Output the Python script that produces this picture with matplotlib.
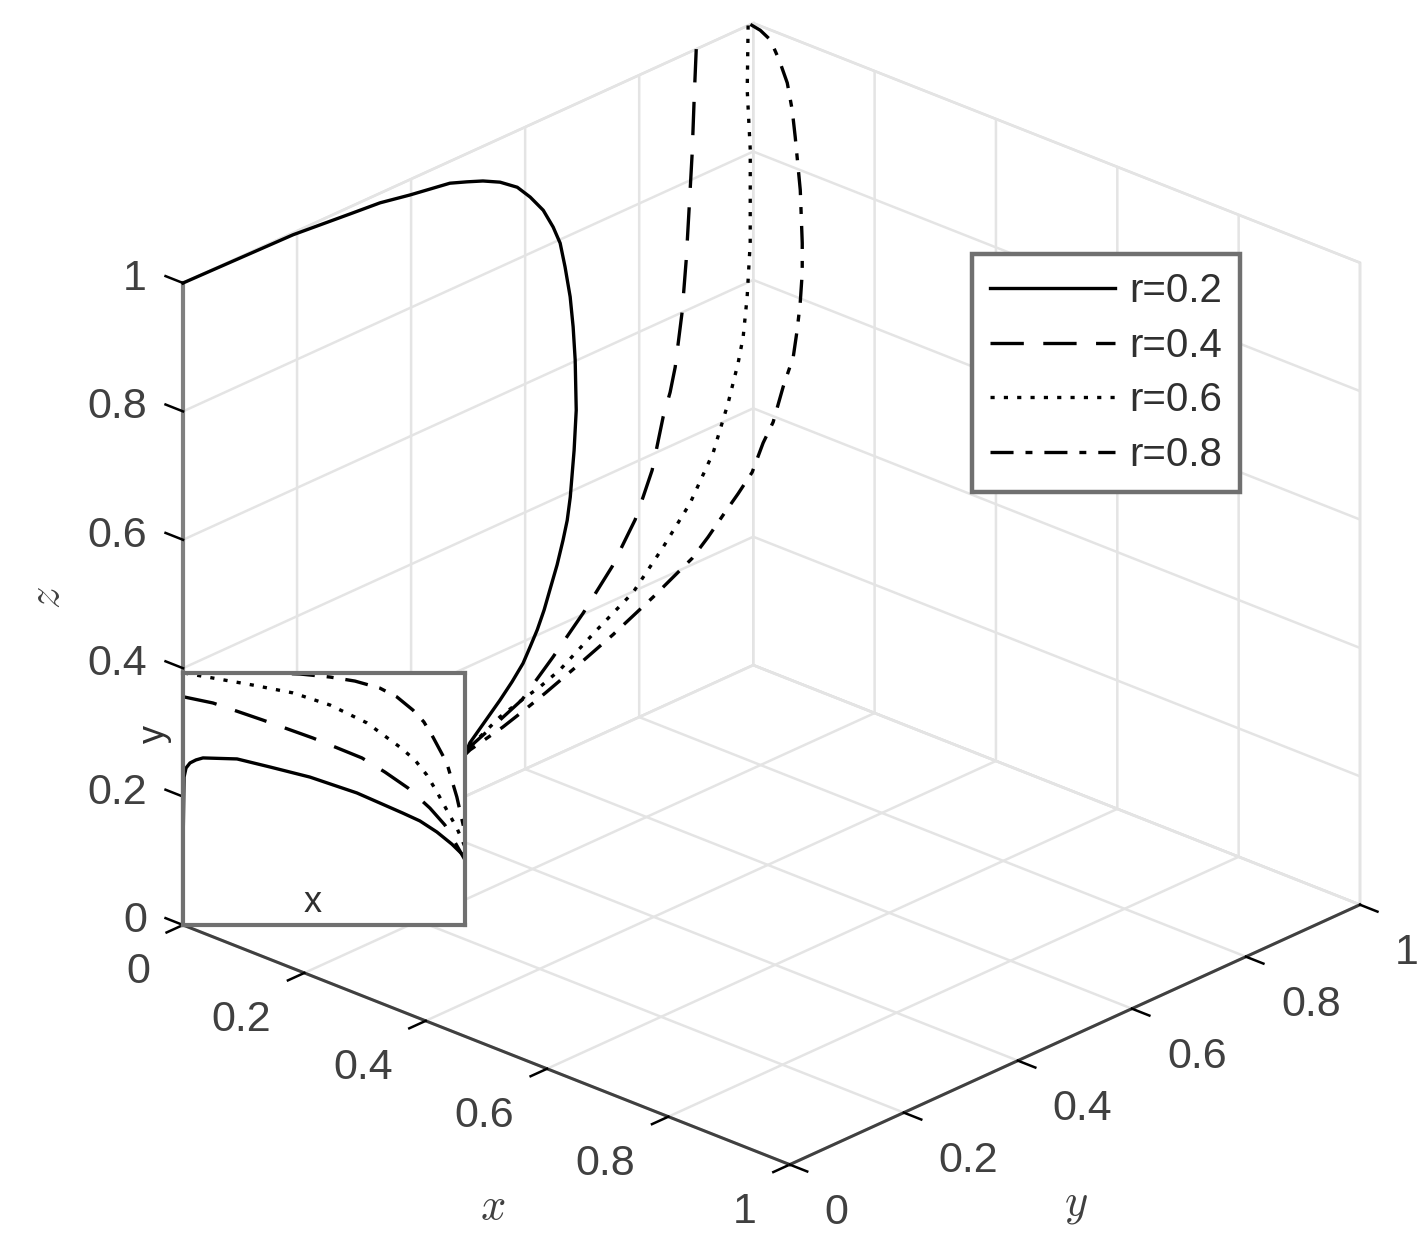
import matplotlib
matplotlib.use('Agg')
import matplotlib.pyplot as plt
from mpl_toolkits.mplot3d import proj3d

W = 1426
H = 1248
plt.rcParams['font.family'] = ['Liberation Sans', 'DejaVu Sans']
plt.rcParams['lines.scale_dashes'] = False

# 3D curves
x_r2 = [0, 0, 0, 0, 0, 0, 0, 0, 0, 0, 0.0002, 0.002, 0.0067, 0.0095, 0.012, 0.015, 0.019, 0.024, 0.03, 0.04, 0.06, 0.08, 0.09, 0.10, 0.115, 0.13, 0.145, 0.16, 0.172, 0.185, 0.2, 0.215, 0.25, 0.27]
y_r2 = [0, 0.193, 0.293, 0.3456, 0.398, 0.433, 0.468, 0.498, 0.526, 0.556, 0.586, 0.6067, 0.6246, 0.639, 0.6486, 0.654, 0.6587, 0.6586, 0.6558, 0.647, 0.622, 0.594, 0.578, 0.56, 0.5337, 0.505, 0.479, 0.451, 0.4256, 0.3995, 0.3642, 0.327, 0.237, 0.207]
z_r2 = [1, 0.997, 0.989, 0.985, 0.976, 0.971, 0.966, 0.956, 0.946, 0.932, 0.912, 0.889, 0.863, 0.832, 0.804, 0.766, 0.719, 0.674, 0.626, 0.555, 0.51, 0.456, 0.43, 0.41, 0.388, 0.366, 0.351, 0.337, 0.325, 0.315, 0.306, 0.298, 0.281, 0.282]

x_r4 = [0, 0.05, 0.07, 0.09, 0.105, 0.124, 0.145, 0.158, 0.172, 0.185, 0.193, 0.2, 0.222, 0.233, 0.244, 0.256, 0.262, 0.27, 0.27]
y_r4 = [0.9, 0.8432, 0.8184, 0.7919, 0.7707, 0.7433, 0.7088, 0.6861, 0.659, 0.6258, 0.6014, 0.58, 0.5162, 0.4537, 0.3893, 0.3221, 0.2772, 0.216, 0.207]
z_r4 = [1, 0.965, 0.897, 0.831, 0.763, 0.7, 0.636, 0.611, 0.589, 0.524, 0.495, 0.471, 0.432, 0.389, 0.351, 0.316, 0.305, 0.291, 0.282]

x_r6 = [0, 0.03, 0.06, 0.11, 0.14, 0.155, 0.165, 0.175, 0.19, 0.205, 0.218, 0.233, 0.245, 0.255, 0.258, 0.261, 0.266, 0.27, 0.27]
y_r6 = [0.991, 0.9575, 0.9309, 0.8776, 0.8403, 0.8174, 0.7979, 0.7698, 0.7275, 0.6712, 0.61, 0.5414, 0.4654, 0.3898, 0.3516, 0.3168, 0.2728, 0.216, 0.207]
z_r6 = [1, 0.924, 0.853, 0.748, 0.69, 0.643, 0.614, 0.567, 0.512, 0.462, 0.423, 0.386, 0.363, 0.335, 0.325, 0.32, 0.313, 0.291, 0.282]

x_r8 = [0, 0.015, 0.03, 0.045, 0.06, 0.068, 0.075, 0.085, 0.092, 0.1, 0.112, 0.125, 0.138, 0.15, 0.165, 0.18, 0.19, 0.2, 0.208, 0.215, 0.222, 0.228, 0.234, 0.24, 0.25, 0.257, 0.26, 0.264, 0.267, 0.27, 0.27]
y_r8 = [0.995, 0.9963, 0.998, 0.9977, 0.9958, 0.9959, 0.9938, 0.992, 0.9863, 0.9795, 0.9667, 0.9493, 0.9302, 0.9105, 0.8769, 0.8433, 0.8152, 0.7853, 0.7521, 0.7184, 0.6846, 0.6502, 0.6105, 0.569, 0.4881, 0.414, 0.3583, 0.3189, 0.277, 0.216, 0.207]
z_r8 = [1, 0.996, 0.986, 0.96, 0.931, 0.892, 0.853, 0.775, 0.739, 0.703, 0.666, 0.631, 0.602, 0.572, 0.545, 0.509, 0.492, 0.462, 0.445, 0.428, 0.41, 0.393, 0.382, 0.37, 0.348, 0.329, 0.313, 0.305, 0.296, 0.286, 0.282]

# inset curves (x-y view)
ix_r2 = [0, 0, 0.001, 0.0029, 0.0067, 0.0124, 0.0191, 0.0517, 0.0833, 0.1024, 0.1215, 0.1436, 0.1665, 0.1885, 0.2105, 0.2268, 0.2431, 0.2574, 0.27, 0.27]
iy_r2 = [0, 0.298, 0.587, 0.623, 0.643, 0.655, 0.663, 0.659, 0.627, 0.607, 0.587, 0.556, 0.524, 0.484, 0.444, 0.413, 0.369, 0.321, 0.27, 0.206]
ix_r4 = [0.001, 0.0287, 0.0766, 0.1244, 0.1713, 0.1933, 0.2153, 0.2364, 0.2507, 0.2603, 0.27, 0.27]
iy_r4 = [0.905, 0.881, 0.813, 0.742, 0.663, 0.607, 0.544, 0.464, 0.397, 0.329, 0.258, 0.206]
ix_r6 = [0.001, 0.0287, 0.067, 0.1053, 0.1407, 0.1761, 0.2077, 0.222, 0.2335, 0.2431, 0.2526, 0.2622, 0.27, 0.27]
iy_r6 = [1.0, 0.98, 0.952, 0.921, 0.873, 0.802, 0.706, 0.655, 0.595, 0.528, 0.456, 0.385, 0.31, 0.206]
ix_r8 = [0.001, 0.0833, 0.112, 0.1407, 0.1646, 0.1885, 0.2048, 0.2201, 0.2306, 0.2393, 0.2526, 0.2574, 0.2622, 0.27, 0.27]
iy_r8 = [1.0, 1.0, 0.996, 0.984, 0.968, 0.94, 0.905, 0.853, 0.806, 0.746, 0.643, 0.575, 0.508, 0.365, 0.206]

ticks = [0, 0.2, 0.4, 0.6, 0.8, 1]
tick_labels = ['0', '0.2', '0.4', '0.6', '0.8', '1']
r_labels = ['r=0.2', 'r=0.4', 'r=0.6', 'r=0.8']

styles = ['-', (0, (24, 14)), (0, (3, 6.6)), (0, (16.6, 8.6, 5, 8.6))]

fig = plt.figure(figsize=(W / 100, H / 100), dpi=100)
side = 1600
ax = fig.add_axes([(W - side) / 2 / W, (H - side) / 2 / H, side / W, side / H], projection='3d', proj_type='ortho')
ax.view_init(elev=25.1, azim=-47.05)
ax.set_xlim(0, 1, view_margin=0)
ax.set_ylim(0, 1, view_margin=0)
ax.set_zlim(0, 1, view_margin=0)
aspect = (829, 837, 709)
ax.set_box_aspect(aspect)

curves = [(x_r2, y_r2, z_r2), (x_r4, y_r4, z_r4), (x_r6, y_r6, z_r6), (x_r8, y_r8, z_r8)]
handles = []
for (cx, cy, cz), ls, lab in zip(curves, styles, r_labels):
    l, = ax.plot(cx, cy, cz, color='black', lw=2.4, ls=ls, dash_capstyle='butt', label=lab)
    handles.append(l)

ax.set_xticks(ticks)
ax.set_yticks(ticks)
ax.set_zticks(ticks)
ax.set_xticklabels([])
ax.set_yticklabels([])
ax.set_zticklabels([])
ax.zaxis.set_ticks_position('lower')
# z ticks should point along -x like the reference
ax.zaxis._get_tickdir = lambda pos: 0

for axis in [ax.xaxis, ax.yaxis, ax.zaxis]:
    axis.set_pane_color((1, 1, 1, 1))
    axis.pane.set_edgecolor('#dedede')
    axis.pane.set_linewidth(1.8)
    axis._axinfo['grid'].update(color='#e4e4e4', linewidth=1.8)
    axis._axinfo['tick']['inward_factor'] = 0.36
    axis._axinfo['tick']['outward_factor'] = 0
    axis._axinfo['tick']['linewidth'] = {True: 1.8, False: 1}
    axis._axinfo['tick']['color'] = '#404040'
ax.zaxis._axinfo['tick']['inward_factor'] = 0
ax.zaxis._axinfo['tick']['outward_factor'] = 0.36
ax.xaxis.line.set_color('#404040')
ax.yaxis.line.set_color('#404040')
ax.zaxis.line.set_color('#808080')
ax.xaxis.line.set_linewidth(2.2)
ax.yaxis.line.set_linewidth(2.2)
ax.zaxis.line.set_linewidth(3)


def to_px(x, y, z):
    xs, ys, _ = proj3d.proj_transform(x, y, z, ax.get_proj())
    px, py = ax.transData.transform((xs, ys))
    return px, H - py


# fit the box onto the wanted pixel corners
fig.canvas.draw()
a = to_px(0, 0, 0)
b = to_px(1, 1, 0)
ax.set_box_aspect(aspect, zoom=(1360 - 183) / (b[0] - a[0]))
fig.canvas.draw()
a = to_px(0, 0, 0)
pos = ax.get_position(original=True)
ax.set_position([pos.x0 + (183 - a[0]) / W, pos.y0 - (925 - a[1]) / H, pos.width, pos.height])
fig.canvas.draw()

# tick labels, placed from the projected tick positions
for v, lab in zip(ticks, tick_labels):
    px, py = to_px(v, 0, 0)
    fig.text((px - 33) / W, 1 - (py + 47) / H, lab, fontsize=31, color='#404040', ha='right', va='center')
    px, py = to_px(1, v, 0)
    fig.text((px + 35) / W, 1 - (py + 48) / H, lab, fontsize=31, color='#404040', ha='left', va='center')
    px, py = to_px(0, 0, v)
    fig.text((px - 36) / W, 1 - (py - 4) / H, lab, fontsize=31, color='#404040', ha='right', va='center')

# axis labels
fig.text(493 / W, 1 - 1207 / H, '$x$', fontsize=32, color='#404040', ha='center', va='center', math_fontfamily='cm')
fig.text(1076 / W, 1 - 1205 / H, '$y$', fontsize=32, color='#404040', ha='center', va='center', math_fontfamily='cm')
fig.text(48 / W, 1 - 598 / H, '$z$', fontsize=32, color='#404040', ha='center', va='center', rotation=90, math_fontfamily='cm')

# inset
ins = fig.add_axes([183 / W, 1 - 925 / H, 282 / W, 252 / H])
ins.plot(ix_r2, iy_r2, color='black', lw=2.4, ls=styles[0], clip_on=False)
ins.plot(ix_r4, iy_r4, color='black', lw=2.4, ls=styles[1], dash_capstyle='butt', clip_on=False)
ins.plot(ix_r6, iy_r6, color='black', lw=2.4, ls=styles[2], dash_capstyle='butt', clip_on=False)
ins.plot(ix_r8, iy_r8, color='black', lw=2.4, ls=styles[3], dash_capstyle='butt', clip_on=False)
ins.set_xlim(0, 0.27)
ins.set_ylim(0, 1)
ins.set_xticks([])
ins.set_yticks([])
for s in ins.spines.values():
    s.set_color('#707070')
    s.set_linewidth(3)
ins.text(0.46, 0.09, 'x', transform=ins.transAxes, fontsize=26, color='#303030', ha='center', va='center')
ins.text(-0.10, 0.76, 'y', transform=ins.transAxes, fontsize=26, color='#303030', ha='center', va='center', rotation=90, clip_on=False)

leg = fig.legend(handles=handles, loc='upper left', bbox_to_anchor=(972 / W, 1 - 254 / H), bbox_transform=fig.transFigure,
                 fontsize=29, frameon=True, fancybox=False, framealpha=1, edgecolor='#707070', borderaxespad=0,
                 handlelength=3.1, handletextpad=0.35, labelspacing=0.41, borderpad=0.45)
leg.get_frame().set_linewidth(3.2)
for t in leg.get_texts():
    t.set_color('#303030')

fig.savefig('out.png', dpi=100)
